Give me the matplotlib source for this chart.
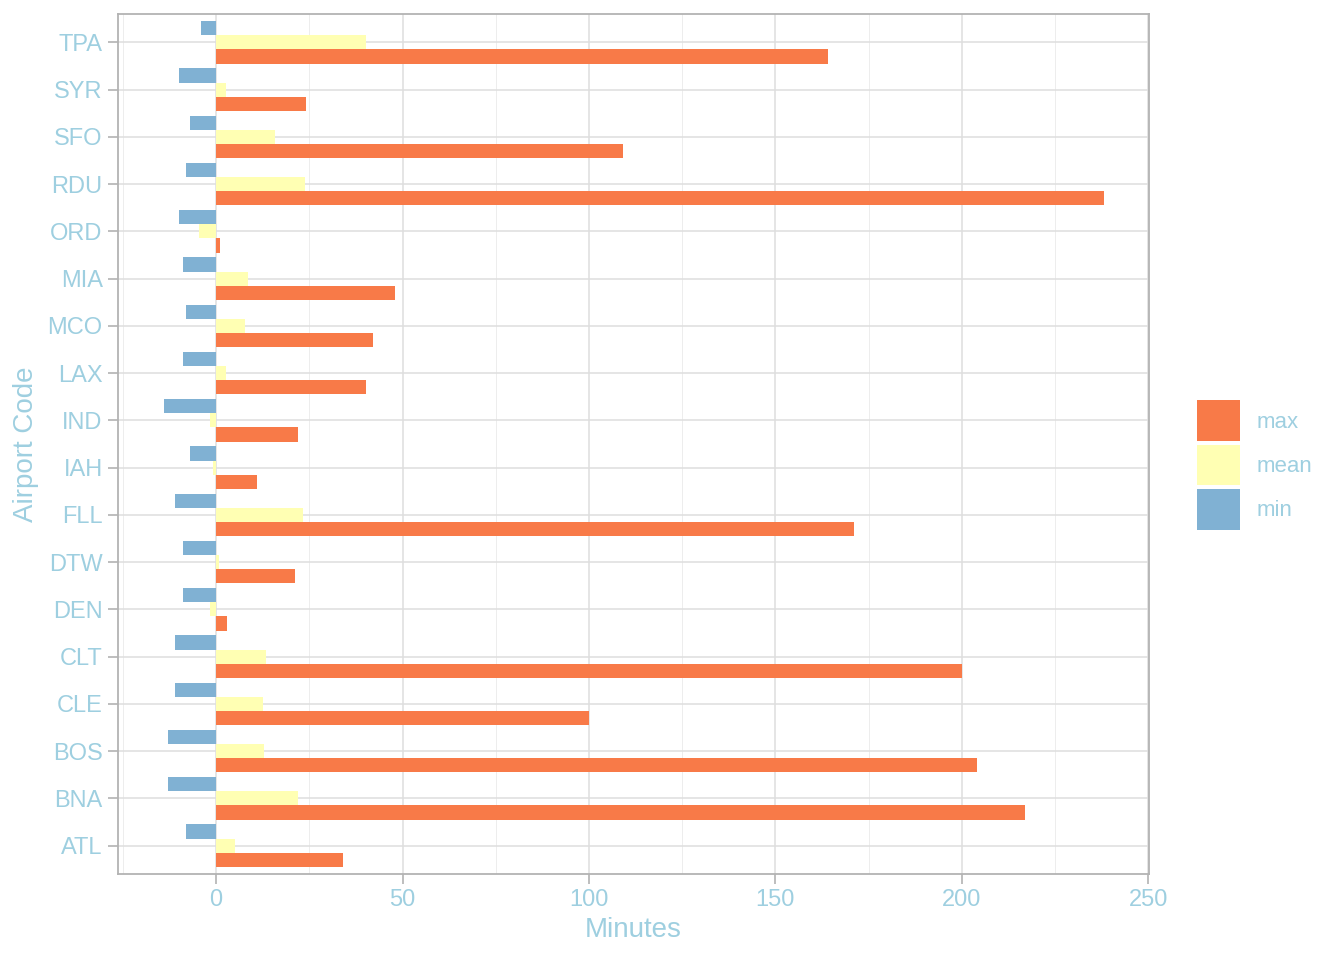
import matplotlib
matplotlib.use("Agg")
import matplotlib.pyplot as plt
from matplotlib.patches import Patch
from matplotlib.ticker import MultipleLocator
import numpy as np

plt.rcParams["font.family"] = ["Liberation Sans", "DejaVu Sans"]

# data, bottom to top
airports = ["ATL", "BNA", "BOS", "CLE", "CLT", "DEN", "DTW", "FLL", "IAH",
            "IND", "LAX", "MCO", "MIA", "ORD", "RDU", "SFO", "SYR", "TPA"]
max_vals = [34, 217, 204, 100, 200, 2.9, 21.2, 171, 11,
            22, 40.2, 42, 48, 1.1, 238, 109, 24.1, 164]
mean_vals = [5.1, 22, 12.9, 12.6, 13.4, -1.6, 0.8, 23.3, -0.8,
             -1.6, 2.6, 7.8, 8.6, -4.5, 23.8, 15.8, 2.6, 40.1]
min_vals = [-8, -13, -13, -11, -11, -9, -9, -11, -7,
            -14, -9, -8, -9, -10, -8, -7, -10, -4]

txt_col = "#9ECFE0"
c_max = "#F87A48"
c_mean = "#FFFFB3"
c_min = "#80B1D3"

fig = plt.figure(figsize=(13.44, 9.6), dpi=100)
ax = fig.add_axes([118 / 1344, 1 - 874 / 960, (1149 - 118) / 1344, (874 - 14) / 960])

y = np.arange(1, len(airports) + 1)
h = 0.3
ax.barh(y - h, max_vals, height=h, color=c_max, zorder=3)
ax.barh(y, mean_vals, height=h, color=c_mean, zorder=3)
ax.barh(y + h, min_vals, height=h, color=c_min, zorder=3)

ax.set_xlim(-26.3, 250.2)
ax.set_ylim(0.4, len(airports) + 0.6)
ax.set_yticks(y)
ax.set_yticklabels(airports)
ax.xaxis.set_major_locator(MultipleLocator(50))
ax.xaxis.set_minor_locator(MultipleLocator(25))

ax.grid(which="major", color="#DEDEDE", linewidth=1.1, zorder=0)
ax.grid(which="minor", axis="x", color="#EDEDED", linewidth=0.7, zorder=0)
for s in ax.spines.values():
    s.set_color("#B3B3B3")
    s.set_linewidth(1.3)
ax.tick_params(which="major", colors="#B3B3B3", labelcolor=txt_col,
               labelsize=17, length=7, width=1.2, pad=4)
ax.tick_params(which="minor", length=0)

ax.set_xlabel("Minutes", color=txt_col, fontsize=20, labelpad=4)
ax.set_ylabel("Airport Code", color=txt_col, fontsize=20, labelpad=6)

handles = [Patch(color=c_max, linewidth=0), Patch(color=c_mean, linewidth=0),
           Patch(color=c_min, linewidth=0)]
fig.legend(handles, ["max", "mean", "min"], loc="center left",
           bbox_to_anchor=(1177 / 1344, 1 - 465 / 960), frameon=False,
           fontsize=16, labelcolor=txt_col, handlelength=1.95,
           handleheight=2.45, labelspacing=0.15, handletextpad=0.75)

fig.savefig("out.png", dpi=100)
